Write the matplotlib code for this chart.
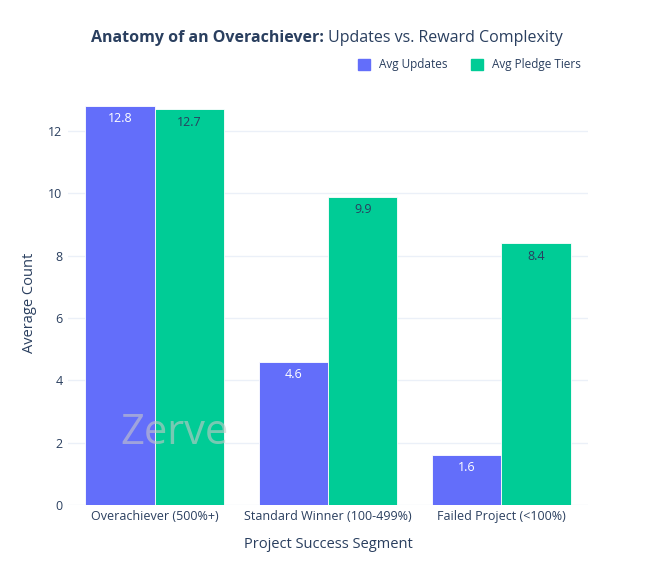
import matplotlib
matplotlib.use("Agg")
import matplotlib.pyplot as plt
import numpy as np

categories = ["Overachiever (500%+)", "Standard Winner (100-499%)", "Failed Project (<100%)"]
avg_updates = [12.8, 4.6, 1.6]
avg_tiers = [12.7, 9.9, 8.4]
yticks = [0, 2, 4, 6, 8, 10, 12]

plt.rcParams['font.family'] = ['Open Sans', 'DejaVu Sans']
W, H = 657, 573
fig = plt.figure(figsize=(W/100, H/100), dpi=100)
ax = fig.add_axes([68/W, 1-505/H, (588-68)/W, (505-100)/H])
x = np.arange(3)
w = 0.4
ax.bar(x - w/2, avg_updates, w, color="#636EFA", edgecolor="white", linewidth=0.6, zorder=2)
ax.bar(x + w/2, avg_tiers, w, color="#00CC96", edgecolor="white", linewidth=0.6, zorder=2)
for xi, v in zip(x, avg_updates):
    ax.text(xi - w/2, v - 0.2, f"{v:.1f}", ha="center", va="top", color="white", fontsize=9, zorder=3)
for xi, v in zip(x, avg_tiers):
    ax.text(xi + w/2, v - 0.2, f"{v:.1f}", ha="center", va="top", color="#2a3f5f", fontsize=9, zorder=3)
ax.set_xlim(-0.5, 2.5)
ax.set_ylim(0, 13.0)
ax.set_yticks(yticks)
ax.set_xticks(x)
ax.set_xticklabels(categories)
ax.grid(axis="y", color="#EBF0F8", linewidth=1, zorder=0)
for s in ax.spines.values():
    s.set_visible(False)
ax.tick_params(length=0, colors="#2a3f5f", labelsize=9)
ax.tick_params(axis="y", pad=4)
ax.set_xlabel("Project Success Segment", color="#2a3f5f", fontsize=10.5, labelpad=10)
ax.set_ylabel("Average Count", color="#2a3f5f", fontsize=10.5, labelpad=8)
ax.text(-0.2, 2.3, "Zerve", transform=ax.transData, fontsize=30, color="#c8c8c8", alpha=0.6, va="center", zorder=4)

t1 = fig.text(91/W, 1-38/H, "Anatomy of an Overachiever:", ha="left", va="center",
              color="#2a3f5f", fontsize=11.5, fontweight="bold")
fig.canvas.draw()
bb = t1.get_window_extent()
fig.text((bb.x1 + 4)/W, 1-38/H, "Updates vs. Reward Complexity", ha="left", va="center",
         color="#2a3f5f", fontsize=11.5)
from matplotlib.patches import Patch
leg = fig.legend(handles=[Patch(color="#636EFA", label="Avg Updates"), Patch(color="#00CC96", label="Avg Pledge Tiers")],
                 loc="center right", bbox_to_anchor=(592/W, 1-65/H), ncol=2, frameon=False,
                 fontsize=8.5, handlelength=1, handleheight=1, columnspacing=2.0)
for t in leg.get_texts():
    t.set_color("#2a3f5f")
fig.savefig("out.png", dpi=100, facecolor="white")
